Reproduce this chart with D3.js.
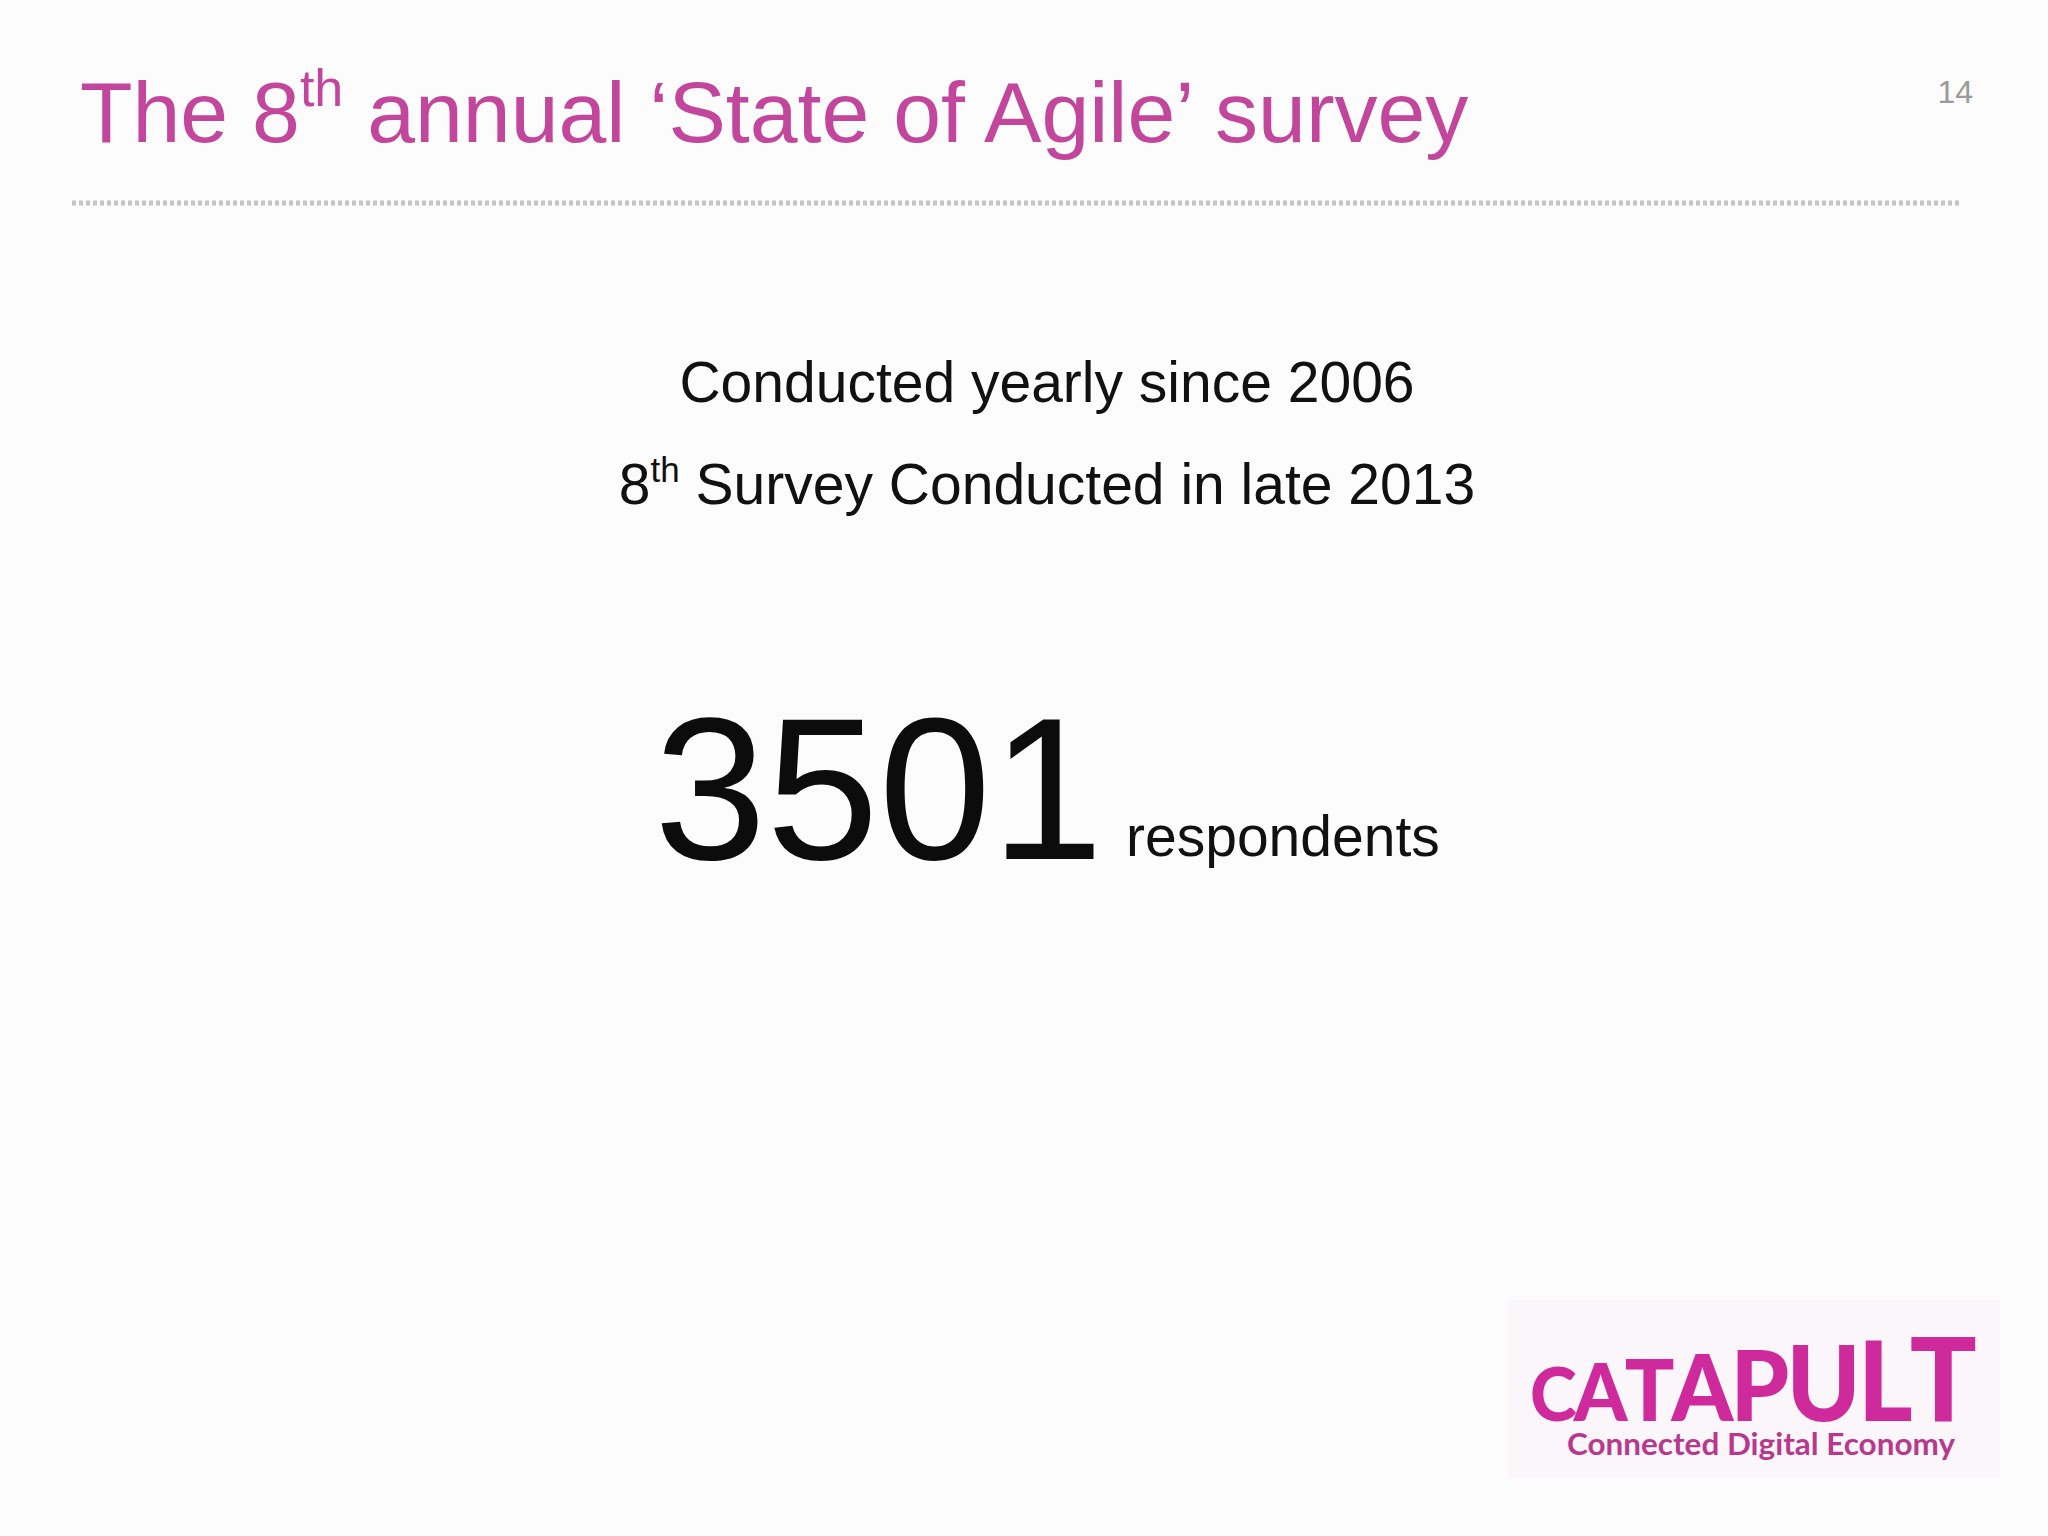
<!DOCTYPE html>
<html><head><meta charset="utf-8">
<script src="https://cdn.jsdelivr.net/npm/d3@7"></script>
<style>body{margin:0;background:#fdfcfd}</style>
</head><body>
<svg id="slide" width="2048" height="1536"></svg>
<script>
const titleParts = ['The 8', 'th', ' annual \u2018State of Agile\u2019 survey']
const pageNumber = '14'
const lines = [['Conducted yearly since 2006'], ['8', 'th', ' Survey Conducted in late 2013']]
const bigNumber = '3501'
const bigLabel = 'respondents'
const logoLetters = ['c', 'A', 'T', 'A', 'P', 'U', 'L', 'T']
const logoSub = 'Connected Digital Economy'

const font = 'Liberation Sans, Arial, sans-serif'
const svg = d3.select('#slide')
svg.append('rect').attr('width', 2048).attr('height', 1536).attr('fill', '#fdfcfd')

// title
const title = svg.append('text').attr('x', 80).attr('y', 142)
  .attr('font-family', font).attr('font-size', 86).attr('fill', '#c2469c')
title.append('tspan').text(titleParts[0])
title.append('tspan').attr('font-size', 52).attr('dy', -36).text(titleParts[1])
title.append('tspan').attr('dy', 36).text(titleParts[2])

svg.append('text').attr('x', 1973).attr('y', 103).attr('text-anchor', 'end')
  .attr('font-family', font).attr('font-size', 32).attr('fill', '#9a9a9a').text(pageNumber)

svg.append('line').attr('x1', 72).attr('x2', 1962).attr('y1', 203).attr('y2', 203)
  .attr('stroke', '#c4c4c4').attr('stroke-width', 5).attr('stroke-dasharray', '4 3')

// centred lines
const lineY = d3.scalePoint().domain(d3.range(lines.length)).range([402, 504])
lines.forEach((parts, i) => {
  const t = svg.append('text').attr('x', 1047).attr('y', lineY(i)).attr('text-anchor', 'middle')
    .attr('font-family', font).attr('font-size', 57).attr('fill', '#111')
  if (parts.length === 1) t.text(parts[0])
  else {
    t.append('tspan').text(parts[0])
    t.append('tspan').attr('font-size', 35).attr('dy', -22).text(parts[1])
    t.append('tspan').attr('dy', 22).text(parts[2])
  }
})

svg.append('text').attr('x', 654).attr('y', 859).attr('font-family', font)
  .attr('font-size', 202).attr('fill', '#0c0c0c').text(bigNumber)
svg.append('text').attr('x', 1126).attr('y', 856).attr('font-family', font)
  .attr('font-size', 57).attr('fill', '#111').text(bigLabel)

// logo
const logo = svg.append('g')
logo.append('rect').attr('x', 1508).attr('y', 1300).attr('width', 492).attr('height', 178).attr('fill', '#fbf6fa')
const sizeScale = d3.scaleLinear().domain([0, logoLetters.length - 1]).range([74, 116])
const logoFont = 'Lato, Noto Sans, sans-serif'
const lt = logo.append('text').attr('x', 1530).attr('y', 1421).attr('font-family', logoFont)
  .attr('font-weight', 900).attr('fill', '#cf2a9c').attr('letter-spacing', -3)
  .attr('textLength', 444).attr('lengthAdjust', 'spacingAndGlyphs')
logoLetters.forEach((c, i) => lt.append('tspan').attr('font-size', sizeScale(i)).text(c.toUpperCase()))
logo.append('text').attr('x', 1567).attr('y', 1455).attr('font-family', logoFont)
  .attr('font-weight', 700).attr('font-size', 30).attr('fill', '#b8388e')
  .attr('textLength', 388).attr('lengthAdjust', 'spacingAndGlyphs').text(logoSub)
</script>
</body></html>
